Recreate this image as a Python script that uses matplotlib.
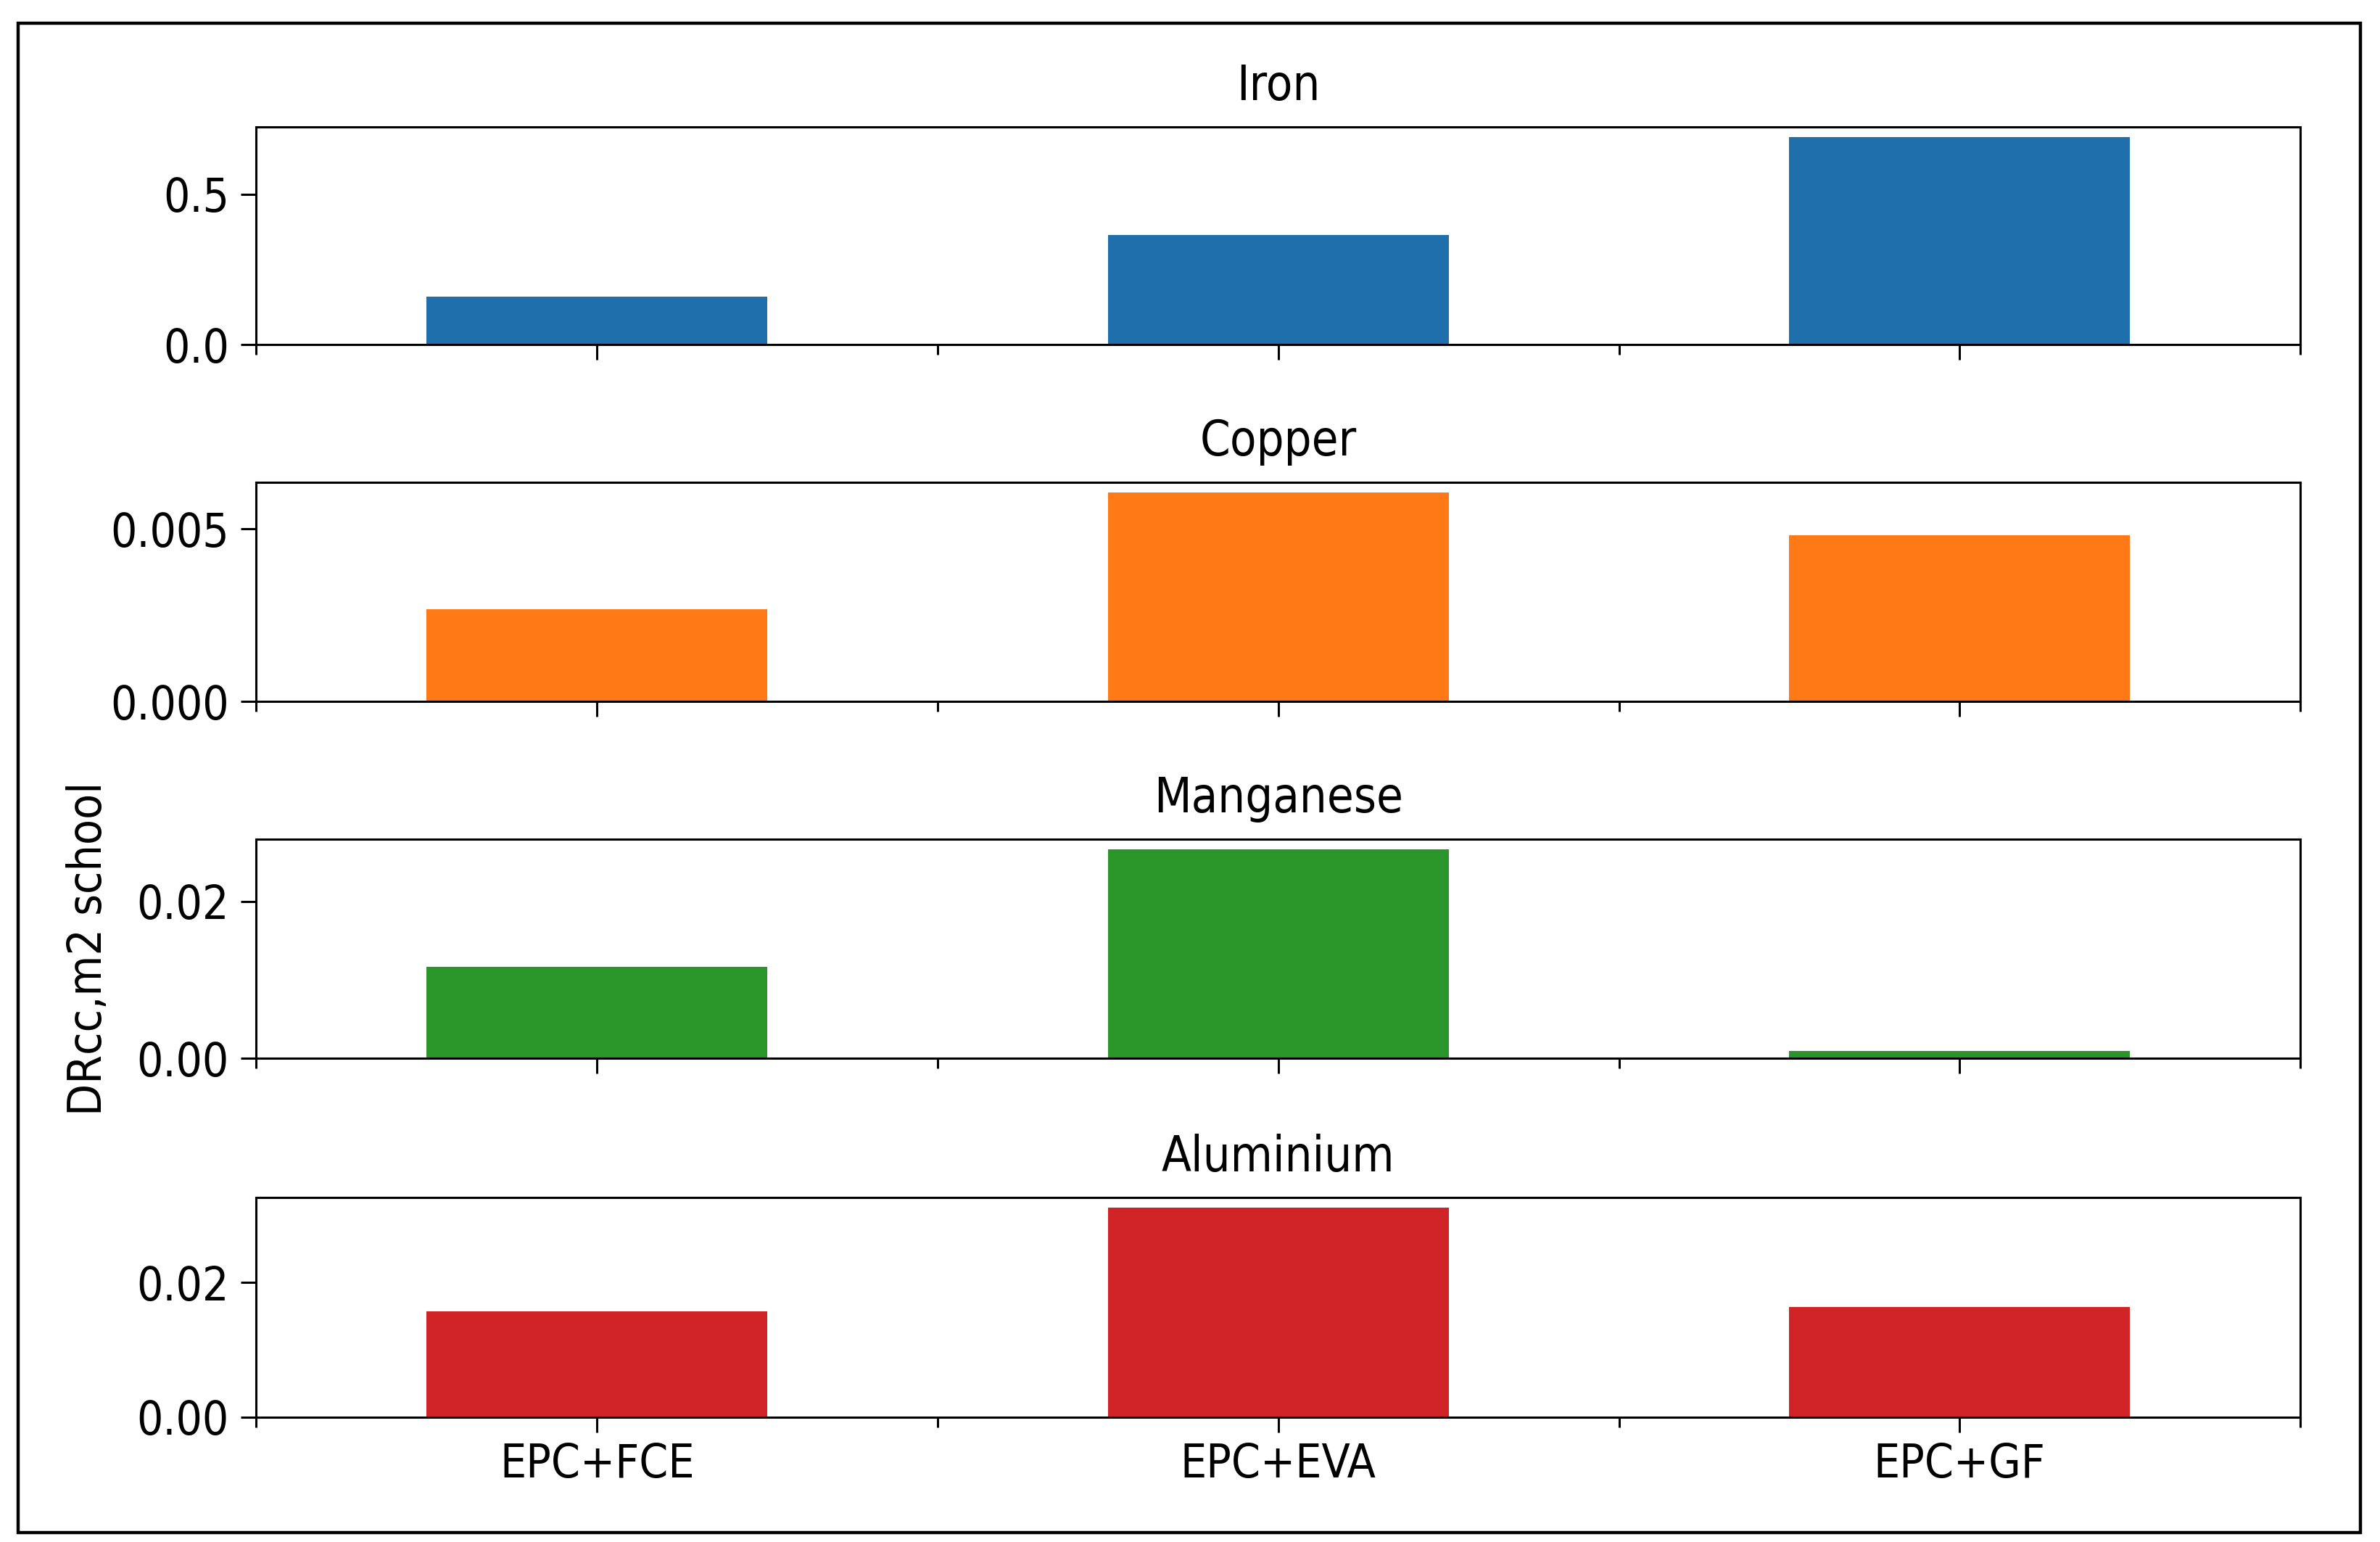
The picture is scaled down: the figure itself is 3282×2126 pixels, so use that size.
import matplotlib
matplotlib.use("Agg")
import matplotlib.pyplot as plt
from matplotlib.patches import Rectangle
from matplotlib.ticker import AutoMinorLocator

categories = ["EPC+FCE", "EPC+EVA", "EPC+GF"]
metals = ["Iron", "Copper", "Manganese", "Aluminium"]
iron = [0.160, 0.365, 0.690]
copper = [0.00268, 0.00605, 0.00482]
manganese = [0.0117, 0.0266, 0.00095]
aluminium = [0.0157, 0.0311, 0.0164]
yticks = [[0.0, 0.5], [0.0, 0.005], [0.0, 0.02], [0.0, 0.02]]
ytick_labels = [["0.0", "0.5"], ["0.000", "0.005"], ["0.00", "0.02"], ["0.00", "0.02"]]
colors = ["#1f6fad", "#ff7916", "#2a962a", "#d02326"]

plt.rcParams["font.family"] = "DejaVu Sans"
plt.rcParams["font.stretch"] = "condensed"

fig = plt.figure(figsize=(16.41, 10.63), dpi=200)

# panel boxes (left, bottom, width, height) in figure fractions
left, right = 0.1077, 0.9665
rows = [(0.7765, 0.9179), (0.5450, 0.6874), (0.3135, 0.4560), (0.0811, 0.2235)]

series = [iron, copper, manganese, aluminium]
axes = []
for i, (name, vals) in enumerate(zip(metals, series)):
    b, t = rows[i]
    ax = fig.add_axes([left, b, right - left, t - b])
    ax.bar(range(len(categories)), vals, width=0.5, color=colors[i])
    ax.set_xlim(-0.5, len(categories) - 0.5)
    ax.set_ylim(0, max(vals) * 1.05)
    ax.set_title(name, fontsize=24, pad=13)
    ax.set_yticks(yticks[i])
    ax.set_yticklabels(ytick_labels[i])
    ax.set_xticks(range(len(categories)))
    ax.xaxis.set_minor_locator(AutoMinorLocator(2))
    if i == len(metals) - 1:
        ax.set_xticklabels(categories)
    else:
        ax.set_xticklabels([])
    ax.tick_params(axis="both", which="major", labelsize=23, length=7.5, width=1.1)
    ax.tick_params(axis="x", which="minor", length=5, width=1.1)
    ax.tick_params(axis="x", which="major", pad=5)
    ax.tick_params(axis="y", which="major", pad=6)
    for sp in ax.spines.values():
        sp.set_linewidth(1.1)
    axes.append(ax)

axes[2].set_ylabel("DRcc,m2 school", fontsize=23)
axes[2].yaxis.set_label_coords(-0.071, 0.5)

# outer border around the whole chart
fig.patches.append(Rectangle((0.0077, 0.006), 0.984, 0.979, transform=fig.transFigure,
                             fill=False, edgecolor="black", linewidth=1.6))

plt.savefig("out.png", dpi=200)
